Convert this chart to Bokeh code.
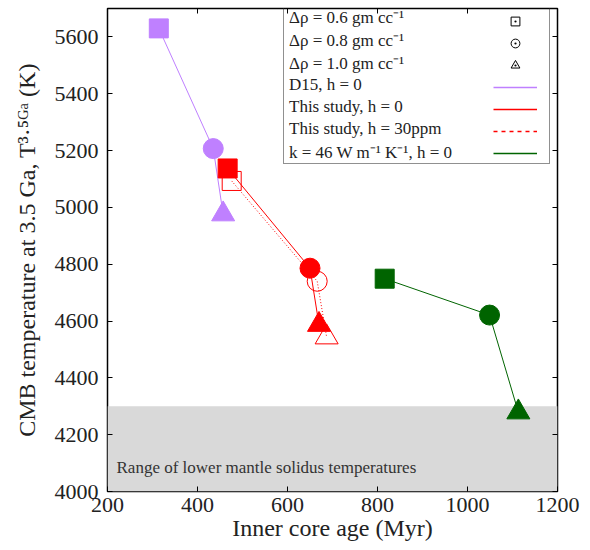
from bokeh.plotting import figure
from bokeh.models import (Range1d, FixedTicker, LinearAxis, BoxAnnotation, Label,
                          Legend, LegendItem, ColumnDataSource)
from bokeh.embed import file_html
from bokeh.resources import INLINE

# ---------------- data ----------------
x_ticks = [200, 400, 600, 800, 1000, 1200]
y_ticks = [4000, 4200, 4400, 4600, 4800, 5000, 5200, 5400, 5600]

# three density jumps: 0.6, 0.8, 1.0 gm/cc  -> square, circle, triangle
d15_age = [314, 435, 457]
d15_temp = [5630, 5207, 4976]
h0_age = [467, 650, 670]
h0_temp = [5137, 4786, 4587]
h30_age = [476, 666, 687]
h30_temp = [5093, 4740, 4543]
k46_age = [816, 1049, 1113]
k46_temp = [4749, 4621, 4279]

solidus_range = [4000, 4300]

legend_labels = [
    "Δρ = 0.6 gm cc⁻¹",
    "Δρ = 0.8 gm cc⁻¹",
    "Δρ = 1.0 gm cc⁻¹",
    "D15, h = 0",
    "This study, h = 0",
    "This study, h = 30ppm",
    "k = 46 W m⁻¹ K⁻¹, h = 0",
]

# ---------------- styles ----------------
FONT = "Liberation Serif"
PURPLE = "#bf80ff"
RED = "#ff0000"
GREEN = "#006400"
marker_kinds = ["square", "circle", "triangle"]
marker_sizes = [19, 20, 23]
NAN = float("nan")

p = figure(width=590, height=550, output_backend="svg", toolbar_location=None,
           x_range=Range1d(200, 1200), y_range=Range1d(4000, 5700),
           min_border_left=107, min_border_right=33, min_border_top=8,
           min_border_bottom=59)
p.grid.visible = False
p.outline_line_color = "black"
p.outline_line_width = 1.5
p.background_fill_color = "white"
p.border_fill_color = "white"

p.xaxis.axis_label = "Inner core age (Myr)"
p.yaxis.axis_label = "CMB temperature at 3.5 Ga, T³·⁵ᴳᵃ (K)"
p.xaxis.ticker = FixedTicker(ticks=x_ticks)
p.yaxis.ticker = FixedTicker(ticks=y_ticks)

# mirrored ticks on top and right (no labels)
for loc, tick in [("above", x_ticks), ("right", y_ticks)]:
    ax = LinearAxis(ticker=FixedTicker(ticks=tick), axis_line_color=None,
                    major_tick_in=5, major_tick_out=0, minor_tick_line_color=None,
                    major_label_overrides={t: "" for t in tick},
                    major_label_text_font_size="6px", major_label_standoff=0)
    p.add_layout(ax, loc)

for ax in [p.below[0], p.left[0]]:
    ax.axis_line_color = None
    ax.major_tick_in = 5
    ax.major_tick_out = 0
    ax.major_tick_line_color = "black"
    ax.minor_tick_line_color = None
    ax.major_label_text_font = FONT
    ax.major_label_text_font_style = "normal"
    ax.major_label_text_font_size = "22px"
    ax.major_label_text_color = "#222222"
    ax.axis_label_text_font = FONT
    ax.axis_label_text_font_size = "24px"
    ax.axis_label_text_font_style = "normal"
    ax.axis_label_text_color = "#222222"
p.below[0].major_label_standoff = 6
p.below[0].axis_label_standoff = 0
p.left[0].major_label_standoff = 9
p.left[0].axis_label_standoff = 12

# solidus band
p.add_layout(BoxAnnotation(bottom=solidus_range[0], top=solidus_range[1],
                           fill_color="#d9d9d9", fill_alpha=1.0, line_color=None,
                           level="underlay"))
p.add_layout(Label(x=220, y=4086, text="Range of lower mantle solidus temperatures",
                   text_font=FONT, text_font_size="17px", text_color="#333333",
                   text_baseline="middle"))


def series(age, temp, color, dash, filled):
    p.line(age, temp, line_color=color, line_width=1, line_dash=dash)
    src = ColumnDataSource(dict(x=age, y=temp, marker=marker_kinds, size=marker_sizes))
    p.scatter(x="x", y="y", marker="marker", size="size", source=src,
              line_color=color, line_width=1,
              fill_color=color if filled else None)


series(d15_age, d15_temp, PURPLE, "solid", True)
series(h30_age, h30_temp, RED, "1 2", False)
series(h0_age, h0_temp, RED, "solid", True)
series(k46_age, k46_temp, GREEN, "solid", True)

# ---------------- legend (text on the left, keys on the right) ----------------
ROW = 22
ghost = p.scatter([NAN], [NAN], alpha=0)
leg_text = Legend(items=[LegendItem(label=t, renderers=[ghost]) for t in legend_labels],
                  location=(176, 327), glyph_width=0, glyph_height=ROW, label_height=ROW,
                  label_standoff=5, label_width=260, padding=0, spacing=0, margin=0,
                  label_text_font=FONT, label_text_font_size="17px",
                  label_text_color="#222222", label_text_baseline="middle",
                  border_line_color="#222222", border_line_width=1,
                  background_fill_alpha=0)
p.add_layout(leg_text)

k1 = p.scatter([NAN], [NAN], marker="square_dot", size=9, line_color="black", fill_color=None)
k2 = p.scatter([NAN], [NAN], marker="circle_dot", size=10, line_color="black", fill_color=None)
k3 = p.scatter([NAN], [NAN], marker="triangle_dot", size=11, line_color="black", fill_color=None)
k4 = p.line([NAN, NAN], [NAN, NAN], line_color=PURPLE, line_width=1.5)
k5 = p.line([NAN, NAN], [NAN, NAN], line_color=RED, line_width=1.5)
k6 = p.line([NAN, NAN], [NAN, NAN], line_color=RED, line_width=1.5, line_dash="4 4")
k7 = p.line([NAN, NAN], [NAN, NAN], line_color=GREEN, line_width=1.5)
leg_keys = Legend(items=[LegendItem(label=" ", renderers=[r]) for r in [k1, k2, k3, k4, k5, k6, k7]],
                  location=(386, 327), glyph_width=44, glyph_height=ROW, label_height=ROW,
                  label_standoff=0, label_width=0, padding=0, spacing=0, margin=0,
                  label_text_font_size="6px",
                  border_line_color=None, background_fill_alpha=0)
p.add_layout(leg_keys)

open("out.html", "w").write(file_html(p, INLINE))
